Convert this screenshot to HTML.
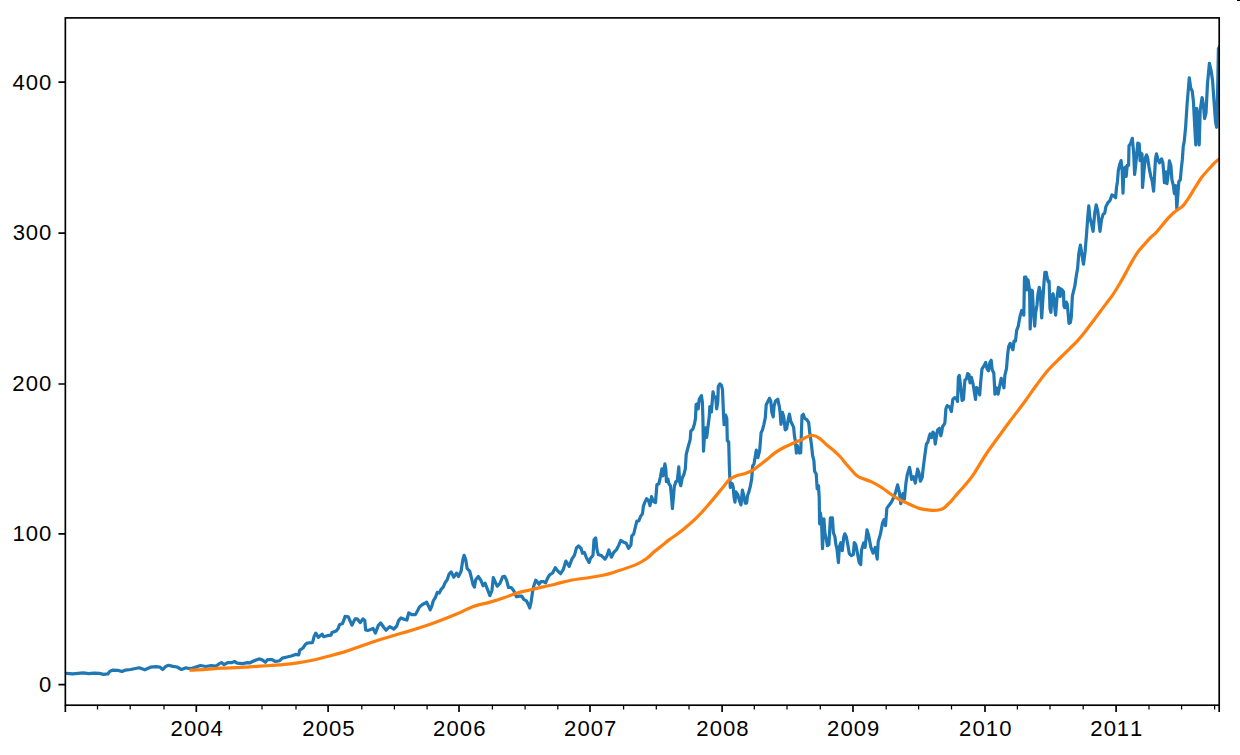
<!DOCTYPE html>
<html><head><meta charset="utf-8"><style>html,body{margin:0;padding:0;background:#fff;width:1240px;height:755px;overflow:hidden}svg{display:block}text{font-family:"Liberation Sans",sans-serif;font-size:22.10px;fill:#000}</style></head><body>
<svg width="1240" height="755" viewBox="0 0 1240 755">
<rect x="0" y="0" width="1240" height="755" fill="#fff"/>
<defs><clipPath id="c"><rect x="65.35" y="17.9" width="1153.85" height="687.30"/></clipPath></defs>
<g clip-path="url(#c)" fill="none" stroke-linejoin="round" stroke-linecap="square" stroke-width="3.2">
<polyline stroke="#1f77b4" points="65.3,673.4 66.3,673.4 72.6,673.9 78.0,673.4 83.3,672.8 88.6,673.6 93.9,673.1 99.3,673.4 103.5,674.4 107.8,673.9 109.9,671.2 112.6,670.2 117.9,670.4 122.1,671.5 125.5,670.1 130.6,669.5 139.1,667.8 144.8,669.8 150.4,667.2 156.1,666.7 160.0,667.2 162.8,669.5 165.7,666.4 168.5,665.3 173.0,666.4 177.0,667.0 181.5,669.5 186.0,667.8 189.4,668.7 192.8,668.1 195.2,667.3 200.5,665.5 205.7,666.5 211.0,665.7 216.2,666.0 219.4,663.6 221.4,662.6 224.1,664.7 227.7,662.6 231.9,662.6 234.5,661.5 237.2,663.1 242.4,663.6 247.7,662.6 250.0,662.8 254.2,660.7 259.0,658.9 262.2,659.9 265.4,662.3 267.5,659.7 272.2,659.7 275.4,661.5 279.7,660.7 282.3,658.1 287.1,657.0 291.3,656.0 295.6,654.4 298.7,654.9 299.8,650.1 303.0,648.0 305.1,644.8 307.2,643.0 312.5,642.7 314.2,636.2 315.8,633.1 318.4,637.3 322.1,634.1 323.6,636.7 327.3,635.7 331.0,635.2 332.0,632.5 336.2,631.0 338.3,628.3 339.4,624.7 342.5,623.6 344.1,619.4 345.1,616.3 348.3,616.8 351.9,625.2 355.1,618.9 357.2,618.9 360.3,622.6 362.9,618.9 364.8,620.5 365.6,629.9 367.7,630.4 370.8,629.4 373.0,628.4 375.4,633.1 378.3,625.4 380.7,623.0 383.7,627.2 386.1,630.2 389.7,626.6 393.8,629.0 396.8,626.0 398.6,620.6 401.0,617.9 404.6,619.4 406.9,620.0 408.7,612.9 411.7,614.7 415.3,614.7 417.7,610.5 419.5,606.9 422.4,604.5 424.8,603.3 426.6,602.2 429.0,606.9 430.2,609.9 432.0,605.7 433.2,601.0 435.3,597.7 437.3,592.4 439.3,593.0 441.3,589.1 443.2,587.1 445.2,582.5 447.2,579.8 449.2,573.8 451.2,571.9 453.8,577.2 456.5,573.2 458.5,576.5 461.1,571.2 462.8,559.9 464.1,555.3 465.8,559.9 467.1,568.5 469.7,571.2 471.1,576.5 473.0,584.4 474.4,587.1 475.7,579.8 478.3,576.5 481.0,580.5 483.0,585.8 485.0,583.1 487.6,589.7 489.9,595.7 492.0,590.2 493.3,577.6 495.3,582.2 497.3,586.2 499.9,583.5 502.6,576.9 504.6,576.3 506.6,580.2 508.5,587.5 511.2,587.5 513.8,590.8 516.5,596.8 519.1,596.1 521.8,596.1 523.8,599.4 526.4,600.8 528.4,604.7 529.7,608.0 531.1,602.1 532.4,592.8 533.7,586.2 535.7,580.2 537.0,581.6 539.0,584.2 541.0,581.6 543.6,581.6 545.6,582.9 547.6,578.2 549.6,574.9 552.6,573.0 555.3,567.7 557.9,571.1 560.6,573.7 563.2,569.7 565.9,561.1 569.2,566.4 571.9,559.1 574.5,555.2 576.5,547.9 578.5,545.9 581.1,548.5 582.5,553.2 584.4,552.5 586.4,557.8 589.1,562.5 590.4,558.5 593.0,555.2 594.0,539.9 595.7,537.9 597.0,549.9 598.3,554.5 601.7,555.8 605.0,559.1 607.0,555.8 608.9,549.9 611.4,557.2 613.7,552.5 616.5,549.7 618.8,545.1 620.7,540.5 623.9,542.3 626.2,543.2 628.6,548.3 630.9,545.1 631.8,535.8 633.7,534.0 635.5,526.5 636.9,521.0 638.8,521.0 640.6,516.3 642.5,513.6 643.4,506.1 644.8,502.4 646.6,498.7 648.5,500.6 650.0,505.6 651.5,496.7 653.5,501.6 655.5,502.6 656.9,484.7 658.9,483.7 660.4,476.8 661.9,468.8 662.9,475.8 664.9,463.9 665.9,469.8 666.4,481.7 667.9,478.8 668.9,483.7 670.4,485.7 671.4,495.7 672.4,508.6 673.3,498.6 674.3,486.7 675.8,481.7 677.3,480.8 678.8,466.8 679.6,481.7 680.8,485.7 682.3,477.8 683.8,474.8 685.3,468.8 686.2,454.6 688.1,447.0 690.2,439.6 690.8,431.1 692.9,429.0 694.5,423.7 695.5,418.4 696.1,404.6 697.7,403.5 698.2,408.8 699.2,399.3 701.4,395.6 702.4,402.5 702.9,418.4 703.5,451.2 704.5,435.3 705.6,427.9 706.7,437.4 707.7,429.0 709.3,416.3 709.8,406.7 711.4,412.0 713.0,391.9 714.1,397.2 715.7,397.2 716.7,408.8 717.8,401.4 718.3,386.6 719.9,383.9 721.5,385.5 722.5,389.8 723.6,416.3 724.1,424.7 725.7,415.2 726.8,418.4 727.3,440.6 728.7,442.0 729.4,467.8 729.9,479.9 730.3,487.3 732.2,483.6 733.1,486.4 734.1,497.5 735.0,502.2 735.9,491.9 737.8,494.7 739.6,501.2 741.0,504.9 742.4,490.1 743.8,495.7 745.2,503.1 746.6,503.1 747.5,495.7 748.9,491.9 750.3,486.4 751.7,479.0 752.6,466.0 754.0,464.1 754.9,458.6 756.3,450.2 757.9,457.7 759.7,450.3 761.1,432.7 762.5,429.9 763.9,424.3 765.3,417.8 766.2,404.8 767.6,402.1 769.5,398.3 770.8,401.1 771.8,412.3 773.2,416.9 774.1,405.8 775.5,401.1 777.8,399.3 779.2,405.8 780.1,412.3 781.0,424.3 782.4,412.3 783.8,416.9 785.2,429.9 786.6,429.0 788.0,420.6 789.4,414.1 790.8,421.5 792.2,424.3 793.6,427.1 794.5,436.4 795.4,441.0 796.4,453.1 797.3,445.7 798.7,451.2 799.6,453.1 800.7,452.7 802.0,415.6 803.3,414.3 804.6,418.2 806.6,419.6 808.6,422.2 809.9,434.1 811.3,443.4 812.6,455.3 813.9,460.6 814.6,471.2 816.2,474.0 817.2,489.0 818.5,485.8 819.2,497.7 819.6,523.8 820.4,512.9 821.5,520.8 822.5,548.7 823.9,518.9 824.9,532.8 826.4,539.7 827.4,545.7 828.9,544.7 830.4,517.9 832.4,517.9 833.4,532.8 834.9,536.7 835.9,544.7 836.9,548.7 838.4,562.6 839.4,546.7 840.8,542.7 842.3,550.7 843.8,536.7 844.8,533.8 846.3,536.7 847.8,544.7 849.3,553.6 851.3,555.6 853.3,554.6 854.3,542.7 855.8,544.7 857.7,554.6 859.2,562.6 860.7,564.6 861.5,550.3 863.6,543.0 865.1,547.4 867.0,529.9 868.7,535.7 870.9,547.4 873.1,553.2 875.3,547.4 877.2,559.1 878.2,541.6 880.4,534.3 882.6,522.6 884.0,519.7 885.5,525.5 886.9,508.1 889.1,505.2 891.3,502.2 893.5,497.9 895.7,492.0 897.6,484.8 899.3,492.0 900.8,503.7 903.0,493.5 904.4,499.3 905.9,483.3 907.3,474.6 909.5,467.3 910.6,472.9 911.6,479.4 913.4,476.6 915.3,483.1 917.6,469.2 919.0,472.9 920.4,481.2 922.2,477.5 923.2,468.2 924.6,457.1 925.5,450.6 926.4,444.1 927.8,442.3 929.2,436.7 930.1,433.9 931.5,437.6 932.9,432.1 934.3,433.9 935.2,444.1 936.1,438.6 937.5,430.2 939.4,428.3 940.8,435.8 941.7,432.1 942.6,426.5 944.0,424.6 944.9,422.7 945.9,408.8 947.2,405.6 949.6,406.9 951.4,411.6 952.8,399.5 954.7,397.7 956.5,398.6 957.5,401.4 958.4,377.3 959.3,375.4 960.7,386.5 962.1,400.5 963.5,399.5 964.9,380.0 966.3,379.1 967.7,373.6 969.0,374.5 970.0,382.8 971.4,377.3 972.8,382.8 974.1,390.3 975.5,399.5 976.5,387.5 978.3,389.3 979.7,394.9 980.6,382.8 982.0,368.9 983.9,366.1 985.7,362.4 987.1,368.9 988.5,370.8 989.9,362.4 991.2,360.3 992.2,369.8 993.8,373.0 994.4,383.6 994.9,394.2 996.5,387.8 998.1,394.2 999.7,385.7 1001.2,378.3 1002.8,383.6 1003.9,387.8 1004.9,375.1 1006.5,368.7 1007.6,355.0 1008.7,346.5 1010.2,343.3 1011.8,347.5 1012.9,349.7 1014.0,341.2 1015.5,341.2 1016.6,330.6 1018.2,326.4 1019.9,317.0 1021.7,310.5 1023.1,311.4 1023.8,315.1 1024.5,277.1 1025.9,277.1 1026.8,290.0 1028.0,279.8 1028.9,285.4 1029.6,291.0 1030.2,329.0 1031.5,290.0 1032.4,291.0 1033.3,309.5 1034.7,326.2 1035.6,313.2 1037.0,304.9 1037.9,294.7 1039.3,287.3 1040.3,291.9 1041.7,317.9 1042.6,304.0 1044.0,282.6 1044.9,272.4 1046.3,272.4 1047.2,278.0 1048.1,281.7 1049.1,281.2 1050.0,308.6 1050.9,312.3 1051.9,295.6 1053.1,293.8 1054.2,302.1 1055.6,315.1 1057.0,297.5 1058.4,287.3 1059.3,288.2 1060.2,296.5 1061.1,289.1 1062.3,290.0 1063.5,291.9 1063.9,305.8 1064.8,307.7 1066.2,302.1 1067.2,304.0 1068.1,313.2 1069.0,323.4 1070.4,322.5 1071.3,317.0 1072.4,295.8 1074.8,286.2 1076.4,275.0 1077.6,268.4 1078.8,253.6 1080.4,245.1 1081.9,254.6 1083.5,264.2 1085.1,251.4 1086.7,232.4 1087.8,216.5 1088.8,205.9 1089.9,217.5 1091.5,223.9 1093.1,231.3 1094.7,213.3 1096.2,204.8 1097.8,211.2 1098.9,221.8 1100.0,231.3 1101.5,219.7 1103.1,214.4 1104.7,213.3 1105.8,206.9 1107.9,202.7 1110.0,200.6 1111.9,194.9 1113.7,195.9 1115.6,197.7 1116.5,187.5 1117.4,181.9 1118.3,170.8 1119.7,164.3 1121.1,160.6 1122.1,169.0 1123.0,193.1 1123.9,169.9 1125.3,167.1 1126.2,176.4 1127.2,165.3 1128.6,165.3 1129.0,145.8 1130.4,143.9 1132.3,138.3 1133.7,153.2 1134.6,174.5 1135.5,167.1 1136.9,152.3 1137.8,143.0 1139.2,143.9 1140.1,160.6 1141.1,153.2 1142.0,154.1 1142.5,187.5 1143.9,171.7 1145.3,157.8 1146.6,155.0 1147.6,157.8 1149.0,167.1 1150.8,176.4 1152.2,181.0 1153.6,191.2 1154.5,176.4 1155.5,158.8 1156.5,153.9 1158.0,159.9 1159.5,162.8 1161.5,158.9 1162.9,162.8 1163.9,174.8 1164.4,182.7 1165.9,171.8 1166.9,183.7 1168.4,172.8 1169.4,160.9 1170.9,165.8 1171.9,179.7 1173.4,185.7 1174.4,193.6 1175.9,185.7 1176.8,208.5 1177.8,195.6 1178.8,181.7 1180.3,179.7 1181.3,168.8 1182.3,159.9 1183.3,146.0 1184.2,141.9 1185.6,127.3 1187.1,104.0 1189.3,77.8 1190.7,88.0 1192.2,90.9 1193.4,101.1 1194.8,127.3 1195.8,144.8 1196.6,108.4 1198.0,121.5 1199.2,144.8 1200.2,109.9 1202.1,97.5 1203.5,105.5 1204.6,118.6 1206.0,112.8 1207.5,83.7 1209.4,63.3 1211.1,70.6 1212.6,80.8 1214.0,101.1 1215.5,121.5 1216.6,127.3 1217.8,83.7 1218.4,48.7 1219.5,47.0"/>
<path stroke="#ff7f0e" d="M191.20,670.20C193.62,670.07 200.67,669.75 205.70,669.40C210.73,669.05 216.15,668.40 221.40,668.10C226.65,667.80 232.43,667.82 237.20,667.60C241.97,667.38 244.33,667.15 250.00,666.80C255.67,666.45 266.20,665.83 271.20,665.50C276.20,665.17 275.85,665.20 280.00,664.80C284.15,664.40 290.72,663.85 296.10,663.10C301.48,662.35 306.92,661.43 312.30,660.30C317.68,659.17 323.03,657.70 328.40,656.30C333.77,654.90 339.13,653.58 344.50,651.90C349.87,650.22 354.87,648.18 360.60,646.20C366.33,644.22 373.37,641.78 378.90,640.00C384.43,638.22 388.33,637.13 393.80,635.50C399.27,633.87 404.83,632.38 411.70,630.20C418.57,628.02 427.32,625.20 435.00,622.40C442.68,619.60 451.42,616.05 457.80,613.40C464.18,610.75 467.93,608.38 473.30,606.50C478.67,604.62 485.02,603.50 490.00,602.10C494.98,600.70 498.78,599.58 503.20,598.10C507.62,596.62 512.08,594.55 516.50,593.20C520.92,591.85 525.28,591.05 529.70,590.00C534.12,588.95 538.78,587.87 543.00,586.90C547.22,585.93 550.52,585.27 555.00,584.20C559.48,583.13 564.12,581.62 569.90,580.50C575.68,579.38 584.18,578.38 589.70,577.50C595.22,576.62 598.78,576.13 603.00,575.20C607.22,574.27 609.50,573.67 615.00,571.90C620.50,570.13 630.65,566.90 636.00,564.60C641.35,562.30 644.13,560.18 647.10,558.10C650.07,556.02 651.35,554.15 653.80,552.10C656.25,550.05 659.15,547.92 661.80,545.80C664.45,543.68 667.05,541.40 669.70,539.40C672.35,537.40 675.05,535.78 677.70,533.80C680.35,531.82 682.48,530.15 685.60,527.50C688.72,524.85 692.73,521.52 696.40,517.90C700.07,514.28 703.33,510.70 707.60,505.80C711.87,500.90 718.37,492.88 722.00,488.50C725.63,484.12 727.08,481.60 729.40,479.50C731.72,477.40 733.27,476.92 735.90,475.90C738.53,474.88 742.42,474.32 745.20,473.40C747.98,472.48 750.28,471.72 752.60,470.40C754.92,469.08 756.70,467.32 759.10,465.50C761.50,463.68 764.42,461.57 767.00,459.50C769.58,457.43 771.80,455.10 774.60,453.10C777.40,451.10 780.72,449.13 783.80,447.50C786.88,445.87 790.00,444.68 793.10,443.30C796.20,441.92 800.15,440.25 802.40,439.20C804.65,438.15 804.80,437.62 806.60,437.00C808.40,436.38 810.98,435.23 813.20,435.50C815.42,435.77 817.68,437.07 819.90,438.60C822.12,440.13 824.30,442.80 826.50,444.70C828.70,446.60 830.85,448.03 833.10,450.00C835.35,451.97 837.80,454.13 840.00,456.50C842.20,458.87 843.75,461.23 846.30,464.20C848.85,467.17 853.02,472.08 855.30,474.30C857.58,476.52 857.27,476.23 860.00,477.50C862.73,478.77 868.07,480.20 871.70,481.90C875.33,483.60 878.42,485.52 881.80,487.70C885.18,489.88 888.97,492.97 892.00,495.00C895.03,497.03 897.58,498.58 900.00,499.90C902.42,501.22 904.35,501.92 906.50,502.90C908.65,503.88 910.75,504.88 912.90,505.80C915.05,506.72 917.25,507.75 919.40,508.40C921.55,509.05 923.65,509.38 925.80,509.70C927.95,510.02 930.15,510.25 932.30,510.30C934.45,510.35 936.77,510.37 938.70,510.00C940.63,509.63 942.40,509.02 943.90,508.10C945.40,507.18 946.42,505.75 947.70,504.50C948.98,503.25 949.87,502.53 951.60,500.60C953.33,498.67 955.95,495.37 958.10,492.90C960.25,490.43 962.57,488.03 964.50,485.80C966.43,483.57 968.12,481.53 969.70,479.50C971.28,477.47 971.30,477.77 974.00,473.60C976.70,469.43 981.93,460.47 985.90,454.50C989.87,448.53 993.83,443.30 997.80,437.80C1001.77,432.30 1005.28,427.43 1009.70,421.50C1014.12,415.57 1019.88,408.20 1024.30,402.20C1028.72,396.20 1032.22,390.87 1036.20,385.50C1040.18,380.13 1044.22,374.58 1048.20,370.00C1052.18,365.42 1056.47,361.62 1060.10,358.00C1063.73,354.38 1067.15,351.12 1070.00,348.30C1072.85,345.48 1074.82,343.68 1077.20,341.10C1079.58,338.52 1081.92,335.78 1084.30,332.80C1086.68,329.82 1089.12,326.38 1091.50,323.20C1093.88,320.02 1096.22,316.88 1098.60,313.70C1100.98,310.52 1103.42,307.28 1105.80,304.10C1108.18,300.92 1110.52,298.12 1112.90,294.60C1115.28,291.08 1117.72,287.05 1120.10,283.00C1122.48,278.95 1125.23,273.87 1127.20,270.30C1129.17,266.73 1130.12,264.65 1131.90,261.60C1133.68,258.55 1135.90,254.78 1137.90,252.00C1139.90,249.22 1141.72,247.38 1143.90,244.90C1146.08,242.42 1149.02,239.10 1151.00,237.10C1152.98,235.10 1154.00,234.78 1155.80,232.90C1157.60,231.02 1159.82,228.18 1161.80,225.80C1163.78,223.42 1165.72,220.78 1167.70,218.60C1169.68,216.42 1171.90,214.28 1173.70,212.70C1175.50,211.12 1176.93,210.28 1178.50,209.10C1180.07,207.92 1181.33,207.57 1183.10,205.60C1184.87,203.63 1187.12,200.28 1189.10,197.30C1191.08,194.32 1193.02,190.88 1195.00,187.70C1196.98,184.52 1198.80,181.18 1201.00,178.20C1203.20,175.22 1206.02,172.28 1208.20,169.80C1210.38,167.32 1212.42,164.98 1214.10,163.30C1215.78,161.62 1217.32,160.50 1218.30,159.70C1219.28,158.90 1219.72,158.70 1220.00,158.50"/>
</g>
<rect x="65.35" y="17.9" width="1153.85" height="687.30" fill="none" stroke="#000" stroke-width="1.67" stroke-linejoin="miter"/>
<path d="M58.45 684.60H65.35M58.45 533.80H65.35M58.45 384.00H65.35M58.45 233.10H65.35M58.45 82.20H65.35M65.35 705.2V712.00M196.30 705.2V712.00M328.10 705.2V712.00M459.00 705.2V712.00M590.00 705.2V712.00M722.10 705.2V712.00M853.00 705.2V712.00M985.00 705.2V712.00M1116.10 705.2V712.00M1219.20 705.2V712.00" stroke="#000" stroke-width="1.67" fill="none"/>
<path d="M97.50 705.2V709.60M130.20 705.2V709.60M164.00 705.2V709.60M229.40 705.2V709.60M262.00 705.2V709.60M296.00 705.2V709.60M361.80 705.2V709.60M394.40 705.2V709.60M427.10 705.2V709.60M492.40 705.2V709.60M525.10 705.2V709.60M557.80 705.2V709.60M623.60 705.2V709.60M656.30 705.2V709.60M689.00 705.2V709.60M754.30 705.2V709.60M787.00 705.2V709.60M820.30 705.2V709.60M886.20 705.2V709.60M918.60 705.2V709.60M951.50 705.2V709.60M1017.40 705.2V709.60M1050.00 705.2V709.60M1083.20 705.2V709.60M1149.00 705.2V709.60M1181.60 705.2V709.60M1214.60 705.2V709.60" stroke="#000" stroke-width="1.25" fill="none"/>
<text x="39.12" y="691.90">0</text>
<text x="12.50 25.87 39.12" y="541.10">100</text>
<text x="12.34 25.87 39.12" y="391.30">200</text>
<text x="12.65 25.87 39.12" y="240.40">300</text>
<text x="12.62 25.87 39.12" y="89.50">400</text>
<text x="170.39 183.92 197.17 210.43" y="735.70">2004</text>
<text x="302.19 315.72 328.97 342.15" y="735.70">2005</text>
<text x="433.09 446.62 459.87 473.13" y="735.70">2006</text>
<text x="564.09 577.62 590.87 604.09" y="735.70">2007</text>
<text x="696.19 709.72 722.97 736.23" y="735.70">2008</text>
<text x="827.09 840.62 853.87 867.06" y="735.70">2009</text>
<text x="959.09 972.62 985.76 999.13" y="735.70">2010</text>
<text x="1090.19 1103.72 1116.86 1130.11" y="735.70">2011</text>
<rect x="1237" y="0" width="3" height="1" fill="#000"/>
</svg></body></html>
